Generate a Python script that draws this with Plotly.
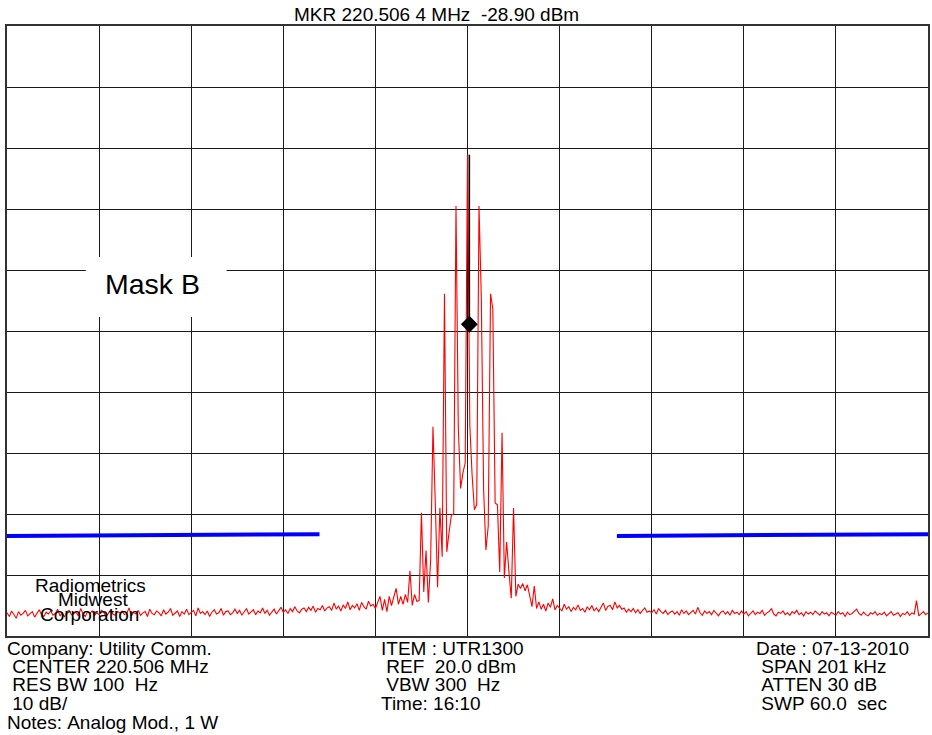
import plotly.graph_objects as go

# Analyzer settings
CENTER_MHZ = 220.506
SPAN_KHZ = 201.0
REF_DBM = 20.0
DB_PER_DIV = 10.0
N_DIV = 10
MKR_MHZ = 220.5064
MKR_DBM = -28.90

# Swept trace, dBm (401 points across the span)
trace_dbm = [
    -76.2, -76.8, -75.9, -76.5, -77.1, -76.0, -76.6, -76.3, -75.8, -76.7,
    -76.4, -76.0, -76.9, -76.2, -75.7, -76.5, -76.8, -76.1, -76.4, -75.9,
    -76.6, -76.3, -75.6, -76.7, -76.2, -76.9, -76.0, -75.8, -76.5, -76.3,
    -76.1, -76.7, -75.5, -76.4, -76.8, -76.0, -76.3, -75.9, -76.6, -76.2,
    -76.5, -75.8, -76.1, -76.9, -76.3, -75.7, -76.4, -76.6, -76.0, -76.2,
    -75.9, -76.5, -76.3, -75.4, -76.7, -76.1, -76.4, -75.8, -76.6, -76.2,
    -76.0, -76.8, -75.6, -76.3, -76.5, -75.9, -76.2, -76.7, -75.7, -76.4,
    -76.1, -75.5, -76.6, -76.3, -75.9, -76.8, -76.0, -76.4, -75.6, -76.5,
    -76.2, -75.8, -76.7, -75.4, -76.3, -76.0, -76.5, -75.9, -76.8, -76.1,
    -75.7, -76.4, -76.2, -75.5, -76.6, -76.0, -75.9, -76.5, -76.2, -75.6,
    -76.3, -75.8, -76.6, -76.0, -75.5, -76.4, -76.1, -75.7, -76.5, -75.9,
    -76.2, -75.4, -76.3, -75.8, -76.6, -76.0, -75.6, -76.4, -75.9, -75.3,
    -76.1, -75.7, -76.3, -75.5, -76.0, -75.2, -75.9, -76.2, -75.6, -75.4,
    -76.0, -75.3, -75.8, -75.1, -76.1, -75.5, -75.7, -75.0, -75.9, -75.4,
    -75.2, -75.8, -74.6, -75.6, -75.1, -75.9, -74.9, -75.5, -74.4, -75.7,
    -75.0, -75.4, -74.7, -75.8, -74.5, -75.2, -75.6, -74.3, -75.1, -74.8,
    -75.5, -74.5, -73.5, -75.8, -74.0, -76.0, -73.5, -75.0, -73.8, -72.2,
    -74.8, -73.5, -74.8, -73.2, -74.5, -69.3, -75.0, -73.2, -74.3, -74.2,
    -59.8, -72.8, -66.0, -74.5, -67.5, -45.7, -58.0, -72.0, -59.0, -67.0,
    -23.9, -66.2, -63.0, -60.2, -60.0, -9.5, -45.7, -55.8, -53.3, -51.6,
    -1.1, -45.4, -53.6, -59.3, -58.5, -9.5, -24.6, -56.0, -65.9, -62.0,
    -23.9, -26.4, -58.2, -58.5, -69.5, -46.7, -70.5, -64.6, -69.5, -73.8,
    -59.0, -73.5, -71.5, -72.2, -71.4, -72.6, -71.6, -73.6, -75.2, -71.8,
    -75.5, -74.4, -75.6, -74.8, -75.9, -74.6, -75.3, -73.9, -75.7, -75.0,
    -75.4, -75.9, -74.8, -75.6, -75.2, -76.0, -75.3, -75.7, -74.9, -75.8,
    -75.5, -76.1, -75.2, -75.7, -75.0, -75.9, -75.4, -76.0, -75.3, -74.6,
    -75.8, -75.1, -75.0, -75.7, -74.4, -75.4, -75.0, -75.6, -75.4, -76.1,
    -75.6, -76.0, -75.5, -76.2, -75.7, -76.3, -75.8, -75.4, -76.1, -75.9,
    -76.2, -75.7, -76.4, -75.5, -76.0, -76.3, -75.8, -76.5, -76.1, -75.9,
    -76.4, -76.0, -76.6, -75.7, -76.3, -75.9, -76.5, -76.1, -75.8, -76.4,
    -75.3, -76.2, -76.6, -75.9, -76.3, -76.0, -76.5, -75.8, -76.2, -76.7,
    -76.1, -75.9, -76.4, -76.0, -76.6, -75.8, -76.3, -76.1, -76.5, -75.9,
    -76.4, -76.0, -76.7, -76.2, -75.9, -76.5, -76.1, -76.3, -75.8, -76.6,
    -76.2, -76.0, -75.5, -76.4, -76.7, -76.1, -76.3, -75.9, -76.5, -76.2,
    -76.6, -76.0, -76.3, -75.8, -76.5, -76.2, -76.7, -76.0, -76.4, -76.1,
    -76.5, -75.9, -76.3, -76.6, -76.0, -76.4, -76.2, -76.7, -76.1, -76.3,
    -76.6, -76.0, -76.4, -76.2, -76.8, -76.1, -76.5, -76.3, -76.0, -75.6,
    -76.3, -76.6, -76.1, -76.5, -76.7, -76.2, -76.4, -76.0, -76.6, -76.3,
    -76.5, -76.1, -76.7, -76.3, -76.0, -76.6, -76.4, -76.2, -76.8, -76.3,
    -76.5, -76.0, -76.6, -76.2, -76.4, -74.2, -76.7, -76.3, -76.0, -76.5,
    -76.2,
]

# Emission mask "B" limit segments (kHz offset from center, dBm)
mask_left_khz = [-100.5, -32.3]
mask_left_dbm = [-63.6, -63.3]
mask_right_khz = [32.6, 100.5]
mask_right_dbm = [-63.6, -63.3]

# Header / footer text
title_text = "MKR 220.506 4 MHz  -28.90 dBm"
col_left = ["Company: Utility Comm.", " CENTER 220.506 MHz", " RES BW 100  Hz",
            " 10 dB/", "Notes: Analog Mod., 1 W"]
col_mid = ["ITEM : UTR1300", " REF  20.0 dBm", " VBW 300  Hz", "Time: 16:10"]
col_right = ["Date : 07-13-2010", " SPAN 201 kHz", " ATTEN 30 dB", " SWP 60.0  sec"]
logo_lines = ["Radiometrics", "Midwest", "Corporation"]

# ---------------------------------------------------------------------------
W, H = 932, 735
ML, MR, MT, MB = 7, 2, 26, 99
PW, PH = W - ML - MR, H - MT - MB

half = SPAN_KHZ / 2
n = len(trace_dbm)
freq_khz = [-half + k * SPAN_KHZ / (n - 1) for k in range(n)]
mkr_khz = (MKR_MHZ - CENTER_MHZ) * 1000.0


def xp(px):
    return (px - ML) / PW


def yp(py):
    return (MT + PH - py) / PH


def nb(s):
    # keep leading / repeated blanks visible in SVG text
    return s.replace(" ", "\u00a0")


fig = go.Figure()

fig.add_trace(go.Scatter(x=freq_khz, y=trace_dbm, mode="lines",
                         line=dict(color="#ff0000", width=1.1), hoverinfo="skip"))
fig.add_trace(go.Scatter(x=mask_left_khz, y=mask_left_dbm, mode="lines",
                         line=dict(color="#0000ff", width=4)))
fig.add_trace(go.Scatter(x=mask_right_khz, y=mask_right_dbm, mode="lines",
                         line=dict(color="#0000ff", width=4)))
# marker line up to the carrier peak, with the marker diamond
fig.add_trace(go.Scatter(x=[mkr_khz, mkr_khz], y=[MKR_DBM, max(trace_dbm)], mode="lines",
                         line=dict(color="#000000", width=1.6)))
fig.add_trace(go.Scatter(x=[mkr_khz], y=[MKR_DBM], mode="markers",
                         marker=dict(symbol="diamond", size=13, color="#000000")))

FONT = "Liberation Sans, Arial, Helvetica, sans-serif"


def label(text, x, y, size, xanchor="left"):
    return dict(text=text, xref="paper", yref="paper", x=xp(x), y=yp(y),
                xanchor=xanchor, yanchor="middle", showarrow=False,
                borderpad=0, borderwidth=0,
                font=dict(size=size, family=FONT, color="black"))


ann = [label(nb(title_text), 437, 14, 19, "center")]

# "Mask B" label sitting on a white patch that interrupts the grid
shapes = [dict(type="rect", xref="paper", yref="paper", layer="above",
               x0=xp(86), x1=xp(227), y0=yp(257), y1=yp(317),
               fillcolor="white", line=dict(width=0))]
ann.append(label("Mask B", 152.5, 284, 28.5, "center"))

for line, cx, cy in zip(logo_lines, [90.5, 93.5, 89.5], [585.5, 599.5, 614.5]):
    ann.append(label(line, cx, cy, 19, "center"))

row_y = [648, 666.5, 685, 703.5, 722]
for col, x0 in ((col_left, 7), (col_mid, 382), (col_right, 758)):
    for k, line in enumerate(col):
        ann.append(label(nb(line), x0, row_y[k], 19))

fig.update_layout(
    width=W, height=H,
    margin=dict(l=ML, r=MR, t=MT, b=MB, pad=0),
    paper_bgcolor="white", plot_bgcolor="white",
    showlegend=False, annotations=ann, shapes=shapes,
    font=dict(family=FONT, color="black"),
)
fig.update_xaxes(range=[-half, half], tick0=-half, dtick=SPAN_KHZ / N_DIV,
                 showgrid=True, gridcolor="#1a1a1a", gridwidth=1,
                 showticklabels=False, ticks="", zeroline=False,
                 showline=True, linecolor="#333333", linewidth=1.5, mirror=True,
                 fixedrange=True)
fig.update_yaxes(range=[REF_DBM - N_DIV * DB_PER_DIV, REF_DBM], tick0=REF_DBM, dtick=DB_PER_DIV,
                 showgrid=True, gridcolor="#1a1a1a", gridwidth=1,
                 showticklabels=False, ticks="", zeroline=False,
                 showline=True, linecolor="#333333", linewidth=1.5, mirror=True,
                 fixedrange=True)

fig.write_html("out.html", config={"displayModeBar": False})
